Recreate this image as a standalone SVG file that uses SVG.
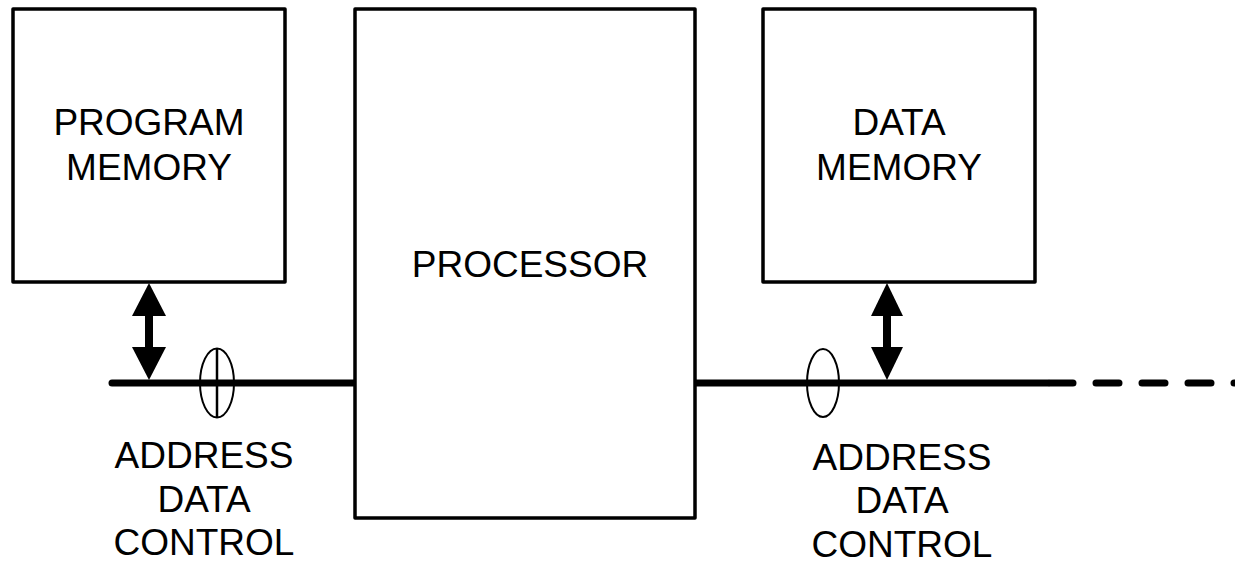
<svg xmlns="http://www.w3.org/2000/svg" width="1235" height="564" viewBox="0 0 1235 564">
<style>
.box{fill:#fff;stroke:#000;stroke-width:3.5;stroke-linejoin:round}
.t{font-family:"Liberation Sans",Arial,sans-serif;font-size:37px;fill:#000;text-anchor:middle}
.bus{stroke:#000;stroke-width:7;stroke-linecap:round;fill:none}
.oval{fill:none;stroke:#000;stroke-width:2}
.shaft{stroke:#000;stroke-width:8}
.head{fill:#000}
</style>
<g id="connectors">
<line class="bus" x1="112" y1="383" x2="356" y2="383"/>
<line class="bus" x1="694" y1="383" x2="1048" y2="383"/>
<line class="bus" x1="1050" y1="383" x2="1235" y2="383" stroke-dasharray="23 23"/>
<line class="shaft" x1="149" y1="312" x2="149" y2="350"/>
<polygon class="head" points="149,283 132,316 166,316"/>
<polygon class="head" points="149,380 132,347 166,347"/>
<line class="shaft" x1="887" y1="312" x2="887" y2="350"/>
<polygon class="head" points="887,283 871,316 903,316"/>
<polygon class="head" points="887,380 871,347 903,347"/>
<ellipse class="oval" cx="217" cy="383" rx="17" ry="34.5"/>
<line x1="217" y1="348" x2="217" y2="418" stroke="#000" stroke-width="2.5"/>
<ellipse class="oval" cx="823" cy="383" rx="16" ry="34"/>
</g>
<g id="program-memory">
<rect class="box" x="13" y="9" width="272" height="273"/>
<text class="t" x="149" y="135">PROGRAM</text>
<text class="t" x="149" y="180">MEMORY</text>
</g>
<g id="processor">
<rect class="box" x="355" y="9" width="340" height="509"/>
<text class="t" x="530" y="277">PROCESSOR</text>
</g>
<g id="data-memory">
<rect class="box" x="763" y="9" width="272" height="273"/>
<text class="t" x="899" y="135">DATA</text>
<text class="t" x="899" y="180">MEMORY</text>
</g>
<g id="bus-label-left">
<text class="t" x="204" y="468">ADDRESS</text>
<text class="t" x="204" y="512">DATA</text>
<text class="t" x="204" y="555">CONTROL</text>
</g>
<g id="bus-label-right">
<text class="t" x="902" y="470">ADDRESS</text>
<text class="t" x="902" y="513">DATA</text>
<text class="t" x="902" y="557">CONTROL</text>
</g>
</svg>
